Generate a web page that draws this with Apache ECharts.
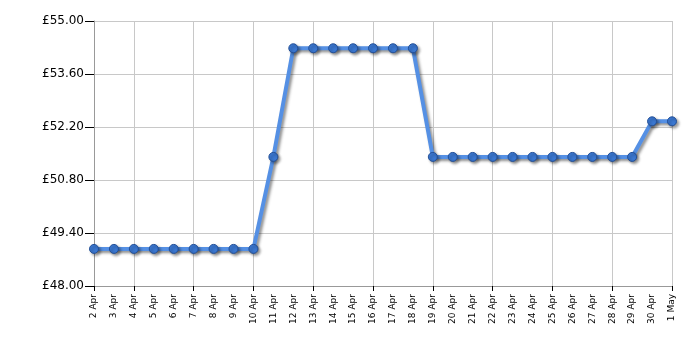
<!DOCTYPE html>
<html>
<head>
<meta charset="utf-8">
<script src="https://cdn.jsdelivr.net/npm/echarts@6/dist/echarts.min.js"></script>
<style>html,body{margin:0;padding:0;background:#fff;}#c{width:700px;height:350px;}</style>
</head>
<body>
<div id="c"></div>
<script>
var categories = ['2 Apr','3 Apr','4 Apr','5 Apr','6 Apr','7 Apr','8 Apr','9 Apr','10 Apr','11 Apr','12 Apr','13 Apr','14 Apr','15 Apr','16 Apr','17 Apr','18 Apr','19 Apr','20 Apr','21 Apr','22 Apr','23 Apr','24 Apr','25 Apr','26 Apr','27 Apr','28 Apr','29 Apr','30 Apr','1 May'];
var prices = [48.98,48.98,48.98,48.98,48.98,48.98,48.98,48.98,48.98,51.41,54.28,54.28,54.28,54.28,54.28,54.28,54.28,51.41,51.41,51.41,51.41,51.41,51.41,51.41,51.41,51.41,51.41,51.41,52.35,52.35];
var yMin = 48.0, yMax = 55.0, yStep = 1.4;

function tickAt(i){ return i === 0 || (i - 2) % 3 === 0; }

var chart = echarts.init(document.getElementById('c'), null, {renderer:'canvas'});
chart.setOption({
  animation: false,
  grid: {left: 94, right: 28, top: 21, bottom: 64, containLabel: false},
  xAxis: {
    type: 'category',
    data: categories,
    boundaryGap: false,
    axisLine: {lineStyle: {color: '#999', width: 1}},
    axisTick: {show: true, interval: function(i){return tickAt(i);}, length: 5, lineStyle: {color: '#000'}},
    axisLabel: {interval: 0, rotate: 90, margin: 8, fontFamily: 'DejaVu Sans', fontSize: 9, color: '#000'},
    splitLine: {show: true, interval: function(i){return tickAt(i);}, lineStyle: {color: '#c8c8c8', width: 1}}
  },
  yAxis: {
    type: 'value',
    min: yMin, max: yMax, interval: yStep,
    axisLine: {show: true, lineStyle: {color: '#999', width: 1}},
    axisTick: {show: true, length: 9, lineStyle: {color: '#000'}},
    axisLabel: {margin: 10, fontFamily: 'DejaVu Sans', fontSize: 12, color: '#000',
      formatter: function(v){ return '£' + v.toFixed(2); }},
    splitLine: {show: true, lineStyle: {color: '#c8c8c8', width: 1}}
  },
  series: [{
    type: 'line',
    data: prices,
    symbol: 'circle',
    symbolSize: 9,
    lineStyle: {color: '#5590e4', width: 4, shadowColor: 'rgba(0,0,0,0.45)', shadowBlur: 3, shadowOffsetX: 2, shadowOffsetY: 2},
    itemStyle: {color: '#3b78d2', borderColor: '#234f96', borderWidth: 1, shadowColor: 'rgba(0,0,0,0.4)', shadowBlur: 3, shadowOffsetX: 2, shadowOffsetY: 2}
  }]
});
</script>
</body>
</html>
